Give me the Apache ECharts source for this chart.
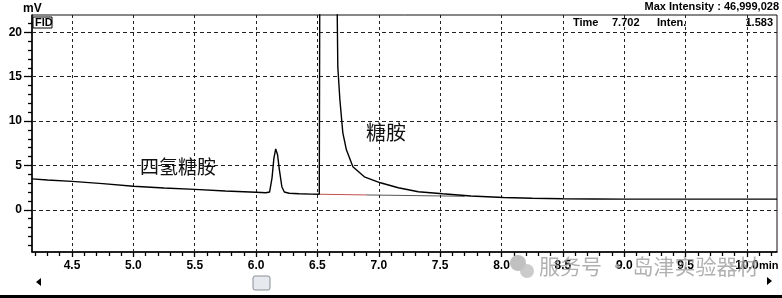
<!DOCTYPE html>
<html>
<head>
<meta charset="utf-8">
<script src="https://cdn.jsdelivr.net/npm/echarts@6/dist/echarts.min.js"></script>
<style>html,body{margin:0;padding:0;background:#fff;}#c{width:782px;height:298px;}</style>
</head>
<body>
<div id="c"></div>
<script>
// ---- data ----
const times  = [4.174, 4.3, 4.5, 4.75, 5.0, 5.25, 5.5, 5.75, 6.0, 6.08, 6.11, 6.13, 6.145, 6.16, 6.175, 6.19, 6.21, 6.23, 6.27, 6.35, 6.45, 6.515,
                6.52, 6.53, 6.58, 6.63, 6.655, 6.666, 6.683, 6.707, 6.736, 6.789, 6.882, 7.013, 7.159, 7.322, 7.52, 7.75, 8.015, 8.25, 8.5, 8.75, 9.0, 9.25, 9.5, 9.75, 10.0, 10.245];
const signal = [3.48, 3.35, 3.2, 2.95, 2.65, 2.45, 2.3, 2.12, 1.97, 1.92, 2.0, 3.6, 5.8, 6.86, 6.2, 4.5, 2.6, 2.0, 1.86, 1.8, 1.76, 1.75,
                30, 70, 120, 70, 30, 16.1, 12.4, 8.67, 6.75, 4.84, 3.71, 3.04, 2.48, 2.03, 1.8, 1.55, 1.38, 1.3, 1.24, 1.22, 1.2, 1.2, 1.2, 1.2, 1.2, 1.2];
const baseRedT = [6.515, 6.9];
const baseRedV = [1.75, 1.67];
const baseGrayT = [6.9, 7.7];
const baseGrayV = [1.67, 1.52];
const xMajorTicks = [4.5, 5.0, 5.5, 6.0, 6.5, 7.0, 7.5, 8.0, 8.5, 9.0, 9.5, 10.0];
const xMinorTicks = [4.2,4.3,4.4,4.6,4.7,4.8,4.9,5.1,5.2,5.3,5.4,5.6,5.7,5.8,5.9,6.1,6.2,6.3,6.4,6.6,6.7,6.8,6.9,7.1,7.2,7.3,7.4,7.6,7.7,7.8,7.9,8.1,8.2,8.3,8.4,8.6,8.7,8.8,8.9,9.1,9.2,9.3,9.4,9.6,9.7,9.8,9.9,10.1,10.2];
const yMajorTicks = [0, 5, 10, 15, 20];
const yMinorTicks = [-4,-3,-2,-1,1,2,3,4,6,7,8,9,11,12,13,14,16,17,18,19,21];
const xRange = [4.174, 10.245];
const yRange = [-4.76, 21.95];
const peakLabels = [{name: '四氢糖胺'}, {name: '糖胺'}];

const zip = (a, b) => a.map((v, i) => [v, b[i]]);
const chart = echarts.init(document.getElementById('c'), null, {renderer: 'canvas'});
const FONT = 'Liberation Sans, Arial, sans-serif';
const CJK = 'Noto Sans CJK SC, sans-serif';

const option = {
  animation: false,
  backgroundColor: '#fff',
  grid: {left: 32, right: 5, top: 15, bottom: 46, show: true, borderColor: '#111', borderWidth: 1, backgroundColor: 'transparent'},
  xAxis: [{
    type: 'value', min: xRange[0], max: xRange[1], position: 'bottom',
    axisLine: {show: true, onZero: false, lineStyle: {color: '#000', width: 1.5}},
    axisTick: {show: true, customValues: xMajorTicks, length: 5, lineStyle: {color: '#000', width: 1.3}},
    axisLabel: {show: true, customValues: xMajorTicks, margin: 8, color: '#000', fontFamily: FONT, fontWeight: 'bold', fontSize: 12,
                formatter: v => v.toFixed(1)},
    splitLine: {show: false}
  }, {
    type: 'value', min: xRange[0], max: xRange[1], position: 'bottom', gridIndex: 0,
    axisLine: {show: false, onZero: false},
    axisTick: {show: true, customValues: xMinorTicks, length: 4, lineStyle: {color: '#000', width: 1.3}},
    axisLabel: {show: false}, splitLine: {show: false}
  }],
  yAxis: [{
    type: 'value', min: yRange[0], max: yRange[1], position: 'left',
    axisLine: {show: true, onZero: false, lineStyle: {color: '#000', width: 1.5}},
    axisTick: {show: true, customValues: yMajorTicks, length: 8, lineStyle: {color: '#000', width: 1.3}},
    axisLabel: {show: true, customValues: yMajorTicks, margin: 10, color: '#000', fontFamily: FONT, fontWeight: 'bold', fontSize: 12},
    splitLine: {show: false}
  }, {
    type: 'value', min: yRange[0], max: yRange[1], position: 'left',
    axisLine: {show: false, onZero: false},
    axisTick: {show: true, customValues: yMinorTicks, length: 4, lineStyle: {color: '#000', width: 1.3}},
    axisLabel: {show: false}, splitLine: {show: false}
  }],
  series: [{
    type: 'line', name: 'grid', data: [], silent: true,
    markLine: {
      silent: true, symbol: ['none', 'none'], label: {show: false},
      data: xMajorTicks.map(v => ({xAxis: v, lineStyle: {type: [3, 3], color: '#222', width: 1}}))
        .concat(yMajorTicks.map(v => ({yAxis: v, lineStyle: {type: [4, 3], color: '#222', width: 1}})))
    }
  }, {
    type: 'line', name: 'baseline-red', data: zip(baseRedT, baseRedV), symbol: 'none', silent: true,
    lineStyle: {color: '#c0504d', width: 1}
  }, {
    type: 'line', name: 'baseline-gray', data: zip(baseGrayT, baseGrayV), symbol: 'none', silent: true,
    lineStyle: {color: '#555', width: 1}
  }, {
    type: 'line', name: 'FID', data: zip(times, signal), symbol: 'none', clip: true, silent: true,
    lineStyle: {color: '#000', width: 1.4}, z: 5
  }],
  graphic: [
    {type: 'text', left: 23, top: 3, style: {text: 'mV', font: 'bold 12px ' + FONT, fill: '#000'}},
    {type: 'rect', shape: {x: 33, y: 17, width: 19, height: 11}, style: {fill: '#fff', stroke: '#000', lineWidth: 1}, z: 10},
    {type: 'text', x: 35, y: 17, style: {text: 'FID', font: 'bold 11px ' + FONT, fill: '#000'}, z: 11},
    {type: 'text', x: 779, y: 1, style: {text: 'Max Intensity : 46,999,028', font: 'bold 11px ' + FONT, fill: '#000', align: 'right'}},
    {type: 'text', x: 573, y: 17, style: {text: 'Time', font: 'bold 11px ' + FONT, fill: '#000'}, z: 11},
    {type: 'text', x: 612, y: 17, style: {text: '7.702', font: 'bold 11px ' + FONT, fill: '#000'}, z: 11},
    {type: 'text', x: 657, y: 17, style: {text: 'Inten.', font: 'bold 11px ' + FONT, fill: '#000'}, z: 11},
    {type: 'text', x: 773, y: 17, style: {text: '1.583', font: 'bold 11px ' + FONT, fill: '#000', align: 'right'}, z: 11},
    {type: 'text', x: 140, y: 157, style: {text: peakLabels[0].name, font: '19px ' + CJK, fill: '#111'}, z: 11},
    {type: 'text', x: 366, y: 122, style: {text: peakLabels[1].name, font: '20px ' + CJK, fill: '#111'}, z: 11},
    {type: 'text', x: 759, y: 260, style: {text: 'min', font: 'bold 11px ' + FONT, fill: '#000'}, z: 11},
    // scroll controls
    {type: 'polygon', shape: {points: [[36, 282], [41, 278], [41, 286]]}, style: {fill: '#000'}},
    {type: 'polygon', shape: {points: [[772, 281], [767, 277], [767, 285]]}, style: {fill: '#000'}},
    {type: 'rect', shape: {x: 253, y: 276, width: 17, height: 14, r: 2}, style: {fill: '#e6e9ee', stroke: '#8a8f96', lineWidth: 1}},
    {type: 'rect', shape: {x: 0, y: 295, width: 782, height: 3}, style: {fill: '#000'}},
    // watermark
    {type: 'circle', shape: {cx: 518, cy: 263, r: 8}, style: {fill: '#b5b5b5', opacity: 0.85}, z: 20},
    {type: 'circle', shape: {cx: 527, cy: 271, r: 7}, style: {fill: '#c2c2c2', opacity: 0.85}, z: 20},
    {type: 'text', x: 539, y: 256, style: {text: '服务号 · 岛津实验器材', font: '21px ' + CJK, fill: '#9c9c9c', opacity: 0.8}, z: 20}
  ]
};
chart.setOption(option);
</script>
</body>
</html>
